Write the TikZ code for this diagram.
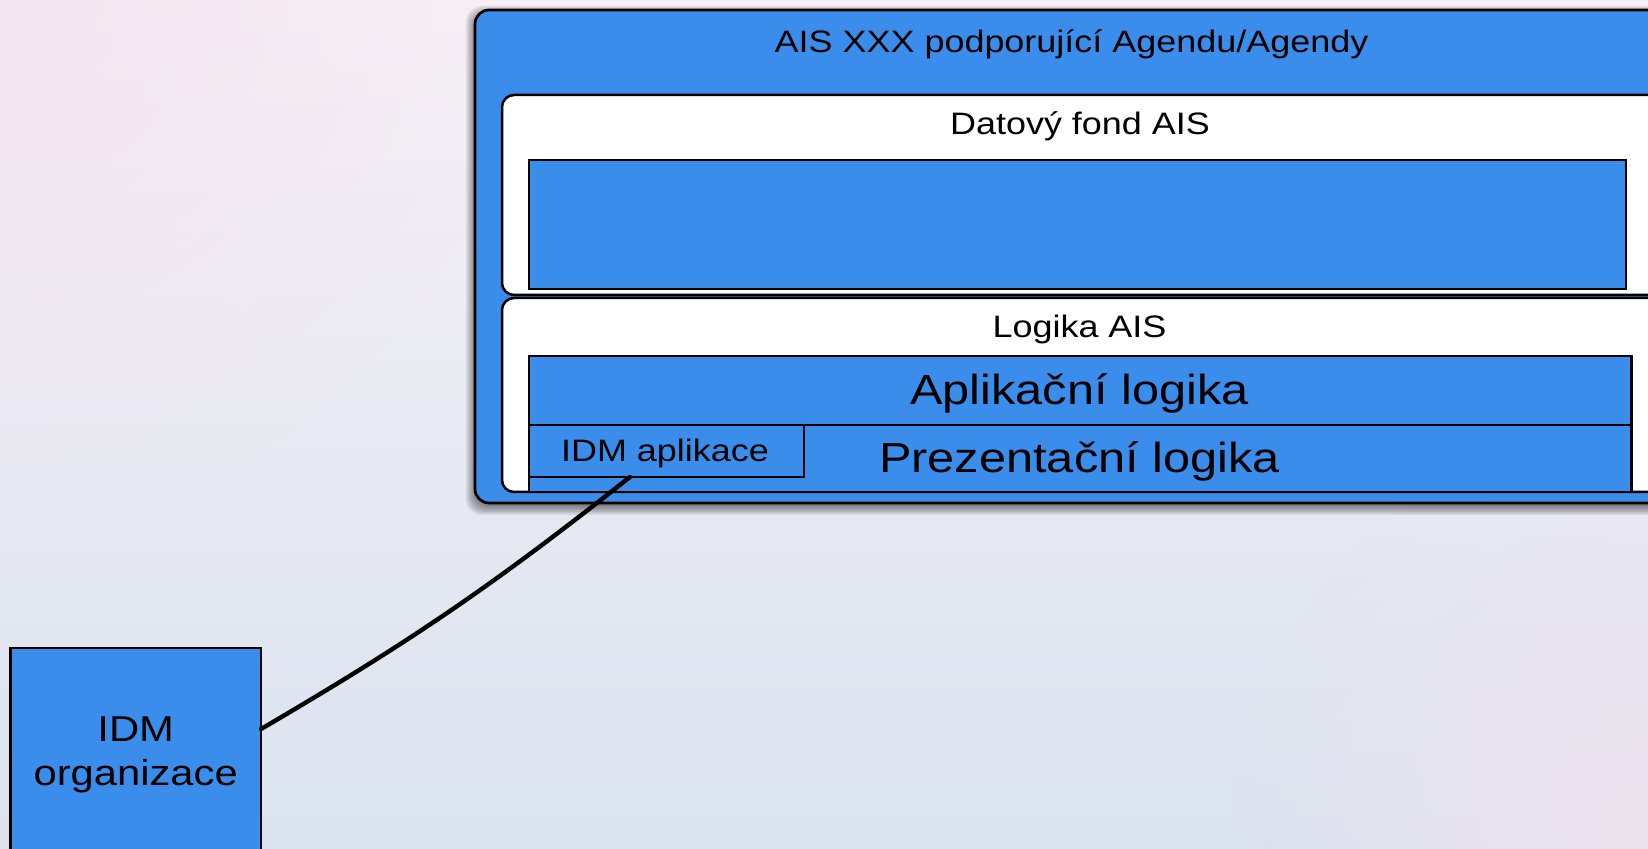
\documentclass[tikz,border=0pt]{standalone}
\usepackage{fontspec}
\setmainfont{Liberation Sans}[FakeStretch=1.16]
\usetikzlibrary{calc,fadings}
\definecolor{boxblue}{HTML}{3B8DEB}
\definecolor{bgtop}{HTML}{F7F0F6}
\definecolor{bgmid}{HTML}{F6F5FB}
\definecolor{bgbot}{HTML}{DAE3EF}
\definecolor{bgpink}{HTML}{F2E2EE}
\tikzfading[name=softcirc, inner color=transparent!20, outer color=transparent!100]
\begin{document}
\begin{tikzpicture}[x=0.5pt,y=-0.5pt,
  blk/.style={draw=black, line width=1.25pt, fill=boxblue, inner sep=0pt, outer sep=0pt, anchor=north west},
  whitebox/.style={draw=black, line width=1.25pt, fill=white, rounded corners=6pt, inner sep=0pt, outer sep=0pt, anchor=north west},
  lbl/.style={anchor=base, inner sep=0pt, font=\fontsize{15.5}{18}\selectfont},
  big/.style={anchor=base, inner sep=0pt, font=\fontsize{21}{24}\selectfont},
  orgtxt/.style={anchor=base, inner sep=0pt, font=\fontsize{18}{21}\selectfont},
  conn/.style={draw=black, line width=2.2pt, line cap=round}]
\useasboundingbox (0,0) rectangle (1648,849);
\clip (0,0) rectangle (1648,849);
% background
\shade[top color=bgtop, middle color=bgmid, bottom color=bgbot] (0,0) rectangle (1648,849);
\fill[bgpink, path fading=softcirc] (0,0) circle (520);
\fill[bgpink, path fading=softcirc] (1648,849) circle (420);
% soft shadow of the outer box
\foreach \e in {0,1.5,...,9} {
  \fill[black, opacity=0.08, rounded corners=8pt] (475-\e,15-\e) rectangle (1680+\e,506+\e);
}
% outer system box
\node[blk, rounded corners=7pt, line width=1.35pt, minimum width=602pt, minimum height=246.5pt] (outer) at (475,10) {};
\node[lbl] (ttl) at (1071.5,53) {AIS XXX podporující Agendu/Agendy};
% data fund
\node[whitebox, minimum width=584pt, minimum height=100pt] (fond) at (502,95) {};
\node[lbl] (fondt) at (1080,135) {Datový fond AIS};
\node[blk, minimum width=548.5pt, minimum height=64.5pt] (fondin) at (529,160) {};
% logic
\node[whitebox, minimum width=584pt, minimum height=97pt] (logika) at (502,298) {};
\node[lbl] (logikat) at (1079.5,338) {Logika AIS};
\node[blk, minimum width=551.3pt, minimum height=34.5pt] (aplik) at (529,356) {};
\node[big] (aplikt) at (1079.5,405) {Aplikační logika};
\node[blk, minimum width=551.3pt, minimum height=33.5pt] (prez) at (529,425) {};
\node[big] (prezt) at (1079.5,473) {Prezentační logika};
\node[blk, minimum width=137.5pt, minimum height=26pt] (idmapp) at (529,425) {};
\node[lbl] (idmappt) at (665,462) {IDM aplikace};
% IDM organizace
\node[blk, minimum width=125.25pt, minimum height=111pt] (idmorg) at (10.5,648) {};
\node[orgtxt] (idmorgt1) at (135.7,741.7) {IDM};
\node[orgtxt] (idmorgt2) at (135.7,785) {organizace};
% connector
\draw[conn] ($(idmorg.north east)!0.365!(idmorg.south east)$) to[bend right=4] ($(idmapp.south west)!0.367!(idmapp.south east)$);
\end{tikzpicture}
\end{document}
